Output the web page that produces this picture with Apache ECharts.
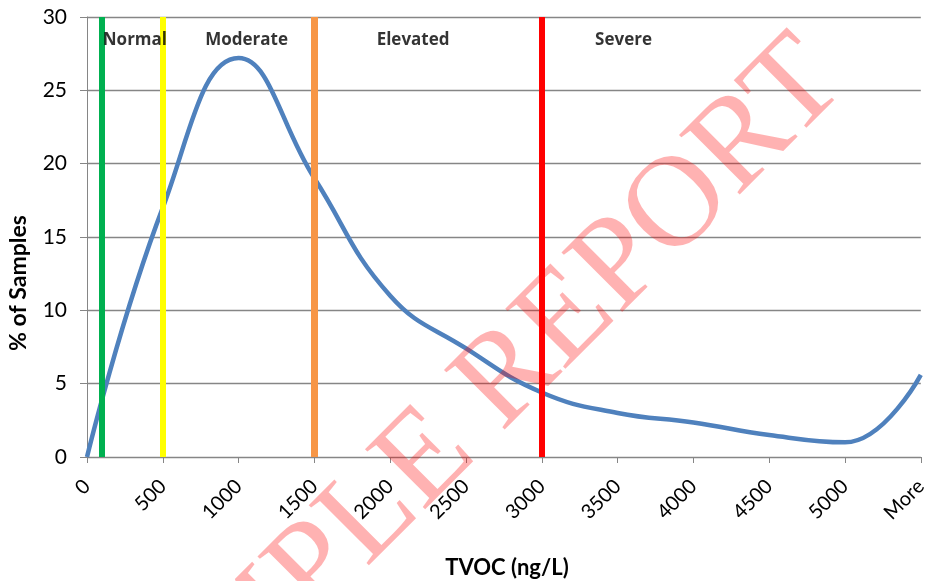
<!DOCTYPE html>
<html>
<head>
<meta charset="utf-8">
<script src="https://cdn.jsdelivr.net/npm/echarts@6/dist/echarts.min.js"></script>
<style>
html,body{margin:0;padding:0;background:#fff;}
#chart{width:930px;height:581px;}
</style>
</head>
<body>
<div id="chart"></div>
<script>
// ---- data ----
const categories = ['0','500','1000','1500','2000','2500','3000','3500','4000','4500','5000','More'];
const samplePct = [0, 17.0, 27.2, 19.0, 11.0, 7.4, 4.4, 3.0, 2.35, 1.5, 1.0, 5.6];
const thresholdNames = ['Normal','Moderate','Elevated','Severe'];
const thresholdValues = [100, 500, 1500, 3000];
const thresholdColors = ['#00B050', '#FFFF00', '#F79646', '#FF0000'];
const zoneLabelX = [316, 1053, 2151, 3539];
const zoneLabelY = 28.4;
const yTicks = [0, 5, 10, 15, 20, 25, 30];

const chart = echarts.init(document.getElementById('chart'), null, {renderer:'canvas'});
const FONT = 'Lato';

const option = {
  animation: false,
  grid: {left: 87, right: 7, top: 17, bottom: 124, containLabel: false},
  xAxis: [{
    type: 'category',
    data: categories,
    boundaryGap: false,
    axisLine: {show: true, lineStyle: {color: '#868686', width: 1}},
    axisTick: {show: true, length: 6, lineStyle: {color: '#868686'}},
    axisLabel: {rotate: 45, margin: 26, fontSize: 20, color: '#000', fontFamily: FONT, interval: 0},
    splitLine: {show: false}
  }, {
    type: 'value',
    min: 0, max: 5500,
    show: false
  }],
  yAxis: {
    type: 'value',
    min: yTicks[0], max: yTicks[yTicks.length-1], interval: 5,
    axisLine: {show: true, lineStyle: {color: '#868686', width: 1}},
    axisTick: {show: true, length: 7, lineStyle: {color: '#868686'}},
    axisLabel: {margin: 20, fontSize: 21, color: '#000', fontFamily: FONT},
    splitLine: {show: true, lineStyle: {color: '#868686', width: 1.3}}
  },
  series: [{
    type: 'line',
    data: samplePct,
    smooth: 0.45,
    symbol: 'none',
    lineStyle: {color: '#4F81BD', width: 4.5},
    z: 2
  }, {
    type: 'scatter',
    xAxisIndex: 1,
    data: zoneLabelX.map((x, i) => ({value: [x, zoneLabelY], name: thresholdNames[i]})),
    symbolSize: 0,
    label: {show: true, position: 'inside', formatter: p => p.name, fontWeight: 'bold', fontSize: 17, color: '#000', fontFamily: 'Open Sans'},
    markLine: {
      silent: true,
      symbol: ['none', 'none'],
      label: {show: false},
      data: thresholdValues.map((v, i) => ({xAxis: v, lineStyle: {color: thresholdColors[i], width: i === 2 ? 7 : 6, type: 'solid'}}))
    },
    z: 5
  }],
  graphic: [{
    type: 'text',
    x: 19, y: 283,
    rotation: Math.PI / 2,
    style: {text: '% of Samples', font: 'bold 23px Lato', fill: '#000', align: 'center', verticalAlign: 'middle'}
  }, {
    type: 'text',
    x: 507, y: 568,
    style: {text: 'TVOC (ng/L)', font: 'bold 22px Lato', fill: '#000', align: 'center', verticalAlign: 'middle'}
  }, {
    type: 'text',
    x: 458, y: 428,
    rotation: Math.PI / 4,
    z: 100,
    style: {text: 'SAMPLE REPORT', font: 'normal 130px "Liberation Serif"', fill: 'rgba(255,0,0,0.3)', align: 'center', verticalAlign: 'middle'}
  }]
};
chart.setOption(option);
</script>
</body>
</html>
